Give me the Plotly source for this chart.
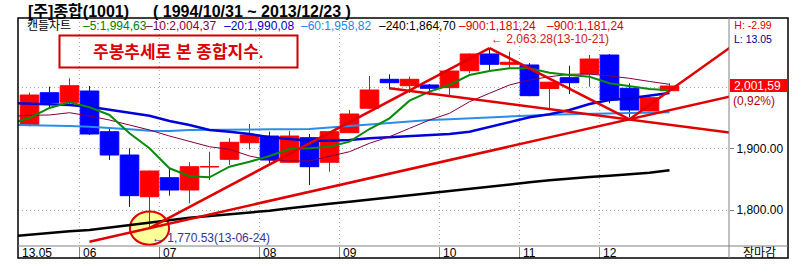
import plotly.graph_objects as go
from datetime import date

# ---------------- data ----------------
weeks = ["2013-05-13", "2013-05-20", "2013-05-27", "2013-06-03", "2013-06-10", "2013-06-17",
         "2013-06-24", "2013-07-01", "2013-07-08", "2013-07-15", "2013-07-22", "2013-07-29",
         "2013-08-05", "2013-08-12", "2013-08-19", "2013-08-26", "2013-09-02", "2013-09-09",
         "2013-09-16", "2013-09-23", "2013-09-30", "2013-10-07", "2013-10-14", "2013-10-21",
         "2013-10-28", "2013-11-04", "2013-11-11", "2013-11-18", "2013-11-25", "2013-12-02",
         "2013-12-09", "2013-12-16", "2013-12-23"]

opens = [1938.2, 1990.7, 1975.1, 1993.5, 1927.3, 1889.4, 1821.6, 1852.5, 1832.5, 1869.9, 1882.4,
         1909.4, 1920.3, 1877.6, 1917.6, 1877.6, 1925.7, 1965.4, 2012.5, 2002.1, 2003.3, 1998.9,
         2026.5, 2053.7, 2036.9, 2035.8, 1997.6, 2015.1, 2021.1, 2052.0, 1997.9, 1961.0, 1994.0]
highs = [1990.7, 2000.5, 2014.1, 2001.6, 1931.7, 1900.3, 1864.0, 1866.7, 1877.6, 1894.8, 1916.6,
         1939.8, 1927.3, 1928.5, 1923.6, 1928.0, 1962.6, 2017.9, 2020.7, 2016.7, 2004.9, 2027.0,
         2054.5, 2063.28, 2057.4, 2039.0, 2008.5, 2034.6, 2052.0, 2053.7, 2006.0, 1987.0, 2006.0]
lows = [1936.0, 1965.9, 1972.4, 1922.0, 1881.3, 1805.0, 1770.53, 1823.3, 1810.9, 1848.8, 1873.2,
        1898.7, 1875.9, 1876.5, 1840.7, 1862.3, 1925.0, 1964.0, 1996.3, 1990.2, 1987.0, 1984.2,
        2022.3, 2024.9, 2031.4, 1985.0, 1965.0, 1988.6, 2000.5, 1973.5, 1950.7, 1960.0, 1993.0]
closes = [1987.0, 1974.5, 2002.1, 1923.6, 1889.4, 1823.3, 1863.4, 1832.5, 1870.4, 1870.7, 1910.1,
          1921.9, 1881.3, 1920.3, 1870.4, 1927.3, 1956.1, 1995.1, 2007.0, 2012.5, 1997.9, 2026.0,
          2053.7, 2036.9, 2040.2, 1985.9, 2007.8, 2007.0, 2045.5, 1978.9, 1962.6, 1982.6, 2001.59]

# moving averages: first value is the (off-screen) week before the first candle
ma5 = [1940.0, 1949.6, 1965.9, 1975.1, 1967.0, 1954.5, 1924.7, 1900.3, 1867.8, 1854.8, 1853.2,
       1870.4, 1878.5, 1887.8, 1899.2, 1900.3, 1902.9, 1911.1, 1931.7, 1949.1, 1977.7, 1992.4,
       2003.3, 2019.5, 2026.0, 2030.4, 2030.4, 2023.2, 2019.5, 2016.7, 2006.0, 2001.6, 1996.7, 1994.63]
ma10 = [1952.0, 1954.0, 1954.5, 1958.2, 1952.8, 1946.3, 1938.2, 1930.1, 1920.3, 1911.1, 1902.9,
        1898.7, 1887.8, 1881.3, 1879.7, 1879.7, 1886.7, 1894.8, 1908.5, 1919.2, 1932.8, 1946.3,
        1957.2, 1976.1, 1989.8, 2003.3, 2011.4, 2016.7, 2020.7, 2021.1, 2017.9, 2014.1, 2009.0, 2004.37]
ma20 = [1974.0, 1973.2, 1972.4, 1970.7, 1968.0, 1962.6, 1958.2, 1953.3, 1944.7, 1938.2, 1930.1,
        1927.3, 1923.6, 1918.2, 1915.0, 1912.7, 1912.7, 1913.8, 1916.6, 1918.2, 1920.3, 1921.9,
        1923.6, 1927.3, 1935.4, 1943.6, 1950.7, 1955.6, 1962.6, 1972.4, 1978.9, 1981.6, 1985.4, 1990.08]
ma60 = [1938.5, 1938.2, 1937.7, 1936.6, 1935.4, 1932.8, 1931.2, 1928.9, 1928.5, 1930.1, 1930.1,
        1930.1, 1930.6, 1931.2, 1931.4, 1931.7, 1934.1, 1936.6, 1939.0, 1941.0, 1943.6, 1946.3,
        1947.6, 1949.1, 1950.9, 1952.8, 1954.5, 1955.0, 1955.6, 1956.4, 1957.2, 1958.0, 1958.4, 1958.82]
ma240 = [1757.0, 1760.2, 1763.1, 1765.4, 1767.5, 1771.6, 1775.6, 1779.7, 1783.7, 1787.5, 1790.2,
         1793.0, 1795.9, 1798.9, 1802.9, 1807.0, 1810.2, 1813.5, 1817.1, 1820.6, 1823.9, 1827.1,
         1831.2, 1835.3, 1838.7, 1842.3, 1845.0, 1848.3, 1851.5, 1853.6, 1855.8, 1858.2, 1860.6, 1864.70]

# user-drawn trend lines: (week position, index value)
trend_lines = [
    ([6, 23], [1770.53, 2063.28]),
    ([23, 30], [2063.28, 1947.5]),
    ([30, 35.6], [1947.5, 2077.4]),
    ([3.0, 35.6], [1748.5, 1988.8]),
    ([18, 35.6], [1997.9, 1923.3]),
]

legend_items = [("캔들차트", "#000000"), ("–5:1,994,63", "#008000"), ("–10:2,004,37", "#800040"),
                ("–20:1,990,08", "#0000CC"), ("–60:1,958,82", "#1E88E5"), ("–240:1,864,70", "#000000"),
                ("–900:1,181,24", "#DD0000"), ("–900:1,181,24", "#DD0000")]
legend_x = [25, 81, 144, 222, 299, 377, 457, 545]

y_ticks = [1800, 1900, 2000]
y_ticktext = ["1,800.00", "1,900.00", ""]

# ---------------- layout helpers ----------------
L, R, T, B = 18, 729, 18, 246
W, H = 809, 280
def px(x):
    return (x - L) / (R - L)
def py(y):
    return (B - y) / (B - T)

xpos = list(range(len(weeks)))
ma_x = [-1] + xpos
dates = [date.fromisoformat(w) for w in weeks]
month_bounds = [i - 0.5 for i in range(1, len(dates)) if dates[i].month != dates[i - 1].month]
month_labels = ["06", "07", "08", "09", "10", "11", "12"]

FONT = "Liberation Sans, Noto Sans CJK KR, sans-serif"

fig = go.Figure()
fig.add_trace(go.Candlestick(
    x=xpos, open=opens, high=highs, low=lows, close=closes,
    increasing=dict(line=dict(color="#FF0000", width=1), fillcolor="#FF0000"),
    decreasing=dict(line=dict(color="#0000FF", width=1), fillcolor="#0000FF"),
    whiskerwidth=0, showlegend=False, hoverinfo="skip"))

for vals, col, wd in [(ma240, "#000000", 2.5), (ma60, "#2B8DE8", 2), (ma20, "#0000DD", 2.5),
                      (ma10, "#800040", 1), (ma5, "#0A8A0A", 2)]:
    fig.add_trace(go.Scatter(x=ma_x, y=vals, mode="lines", line=dict(color=col, width=wd),
                             showlegend=False, hoverinfo="skip"))

for tx, ty in trend_lines:
    fig.add_trace(go.Scatter(x=tx, y=ty, mode="lines", line=dict(color="#E00000", width=2.5),
                             showlegend=False, hoverinfo="skip"))

low_i = lows.index(min(lows))
high_i = highs.index(max(highs))

shapes = [
    # highlight circle around the low
    dict(type="circle", xref="x", yref="y", layer="between",
         x0=low_i - 0.98, x1=low_i + 0.98, y0=min(lows) - 27, y1=min(lows) + 27,
         fillcolor="#FFFF99", line=dict(color="#E00000", width=2)),
    # frame
    dict(type="rect", xref="paper", yref="paper", x0=px(18), x1=px(788), y0=py(258), y1=py(18),
         line=dict(color="#000000", width=1.5)),
    dict(type="line", xref="paper", yref="paper", x0=px(729), x1=px(729), y0=py(258), y1=py(18),
         line=dict(color="#808080", width=1)),
    dict(type="line", xref="paper", yref="paper", x0=px(18), x1=px(788), y0=py(246), y1=py(246),
         line=dict(color="#808080", width=1)),
    # title box
    dict(type="rect", xref="paper", yref="paper", x0=px(59.5), x1=px(297.5), y0=py(67.5), y1=py(35.5),
         line=dict(color="#CC0000", width=2), fillcolor="rgba(255,255,255,0)"),
    # current price box
    dict(type="rect", xref="paper", yref="paper", x0=px(730), x1=px(788), y0=py(92), y1=py(79),
         line=dict(width=0), fillcolor="#FF0000"),
]

ann = []
def txt(x, y, s, color="#000000", size=12, anchor="left", bold=False):
    ann.append(dict(xref="paper", yref="paper", x=px(x), y=py(y), text=("<b>%s</b>" % s) if bold else s,
                    showarrow=False, xanchor=anchor, yanchor="middle",
                    font=dict(family=FONT, size=size, color=color)))

txt(26, 11, "[주]종합(1001)", size=16, bold=True)
txt(151, 11, "( 1994/10/31 ~ 2013/12/23 )", size=16, bold=True)
for (s, c), lx in zip(legend_items, legend_x):
    txt(lx, 26.5, s, color=c)
txt(732, 31.5, "<span style='color:#DD0000'>H: -2.99</span><br><span style='color:#000090'>L: 13.05</span>",
    size=10.5)
txt(178.5, 52, "주봉추세로 본 종합지수.", color="#DD0000", size=17, anchor="center", bold=True)
txt(732, 85.5, "2,001,59", color="#FFFFFF")
txt(731, 101, "(0,92%)", color="#B00000")
txt(20, 253, "13.05")
for b, lab in zip(month_bounds, month_labels):
    ann.append(dict(xref="x", yref="paper", x=b, y=py(253), text=lab, showarrow=False,
                    xanchor="left", yanchor="middle", xshift=1,
                    font=dict(family=FONT, size=12, color="#000000")))
txt(759, 253, "장마감", anchor="center")

ann.append(dict(xref="x", yref="y", x=high_i, y=max(highs), text="← 2,063.28(13-10-21)",
                showarrow=False, xanchor="left", yanchor="bottom", xshift=-1,
                font=dict(family=FONT, size=12, color="#CC2222")))
ann.append(dict(xref="x", yref="y", x=low_i, y=min(lows), text="← 1,770.53(13-06-24)",
                showarrow=False, xanchor="left", yanchor="top", yshift=-1,
                font=dict(family=FONT, size=12, color="#333399")))

v_per_px = 1 / 0.615
y_lo = 2000 - (B - 87) * v_per_px
y_hi = 2000 + (87 - T) * v_per_px

fig.update_layout(
    width=W, height=H, margin=dict(l=L, r=W - R, t=T, b=H - B, pad=0),
    paper_bgcolor="#FFFFFF", plot_bgcolor="#FFFFFF",
    boxgap=0.07, boxgroupgap=0, showlegend=False,
    shapes=shapes, annotations=ann,
    font=dict(family=FONT, size=12, color="#000000"),
    xaxis=dict(range=[-0.575, 34.975], rangeslider=dict(visible=False), showline=False, zeroline=False,
               tickmode="array", tickvals=month_bounds, showticklabels=False,
               ticks="outside", ticklen=12, tickcolor="#808080", tickwidth=1,
               showgrid=True, gridcolor="#A8A8A8", griddash="1px,3px", gridwidth=1),
    yaxis=dict(range=[y_lo, y_hi], side="right", showline=False, zeroline=False,
               tickmode="array", tickvals=y_ticks, ticktext=y_ticktext,
               ticks="outside", ticklen=4, tickcolor="#808080",
               tickfont=dict(family=FONT, size=12, color="#000000"),
               showgrid=True, gridcolor="#A8A8A8", griddash="1px,3px", gridwidth=1),
)

fig.write_html("out.html")
